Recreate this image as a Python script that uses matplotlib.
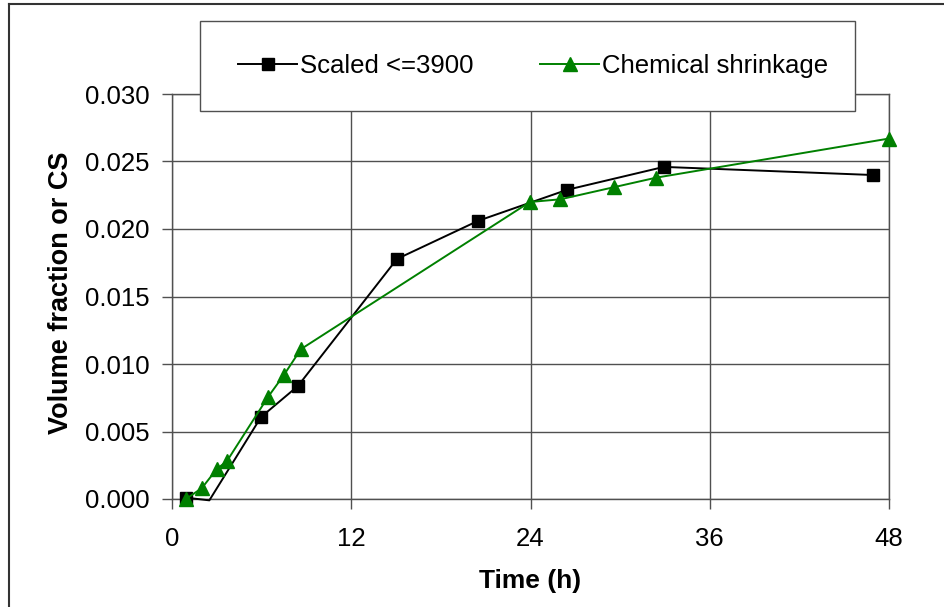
import numpy as np
import matplotlib
matplotlib.use("Agg")
import matplotlib.pyplot as plt
from matplotlib.patches import Rectangle
from matplotlib.lines import Line2D

plt.rcParams['font.family'] = ['Liberation Sans', 'DejaVu Sans']

# data
t_scaled = [0.94, 2.5, 5.96, 8.43, 15.06, 20.48, 26.44, 32.93, 46.9]
v_scaled = [0.0001, -0.0001, 0.00607, 0.00837, 0.01778, 0.0206, 0.0229, 0.0246, 0.0240]
t_cs = [0.94, 2.0, 3.0, 3.68, 6.43, 7.5, 8.63, 23.96, 26.0, 29.6, 32.4, 48.0]
v_cs = [0.0, 0.00081, 0.00222, 0.00281, 0.00756, 0.0092, 0.0111, 0.0220, 0.0222, 0.0231, 0.0238, 0.0267]

x_ticks = [0, 12, 24, 36, 48]
y_ticks = [0.000, 0.005, 0.010, 0.015, 0.020, 0.025, 0.030]

W, H = 944, 607
fig = plt.figure(figsize=(W/100, H/100), dpi=100)
ax = fig.add_axes([172/W, 1-499/H, (889-172)/W, (499-94)/H])

ax.plot(t_scaled, v_scaled, color='black', lw=1.4, marker='s', ms=8.5,
        markevery=[0, 2, 3, 4, 5, 6, 7, 8], zorder=3, clip_on=False)
ax.plot(t_cs, v_cs, color='#008000', lw=1.4, marker='^', ms=9.5,
        zorder=4, clip_on=False)

ax.set_xlim(0, 48)
ax.set_ylim(0, 0.030)
ax.set_xticks(x_ticks)
ax.set_yticks(y_ticks)
ax.set_yticklabels(['%.3f' % y for y in y_ticks])
ax.grid(True, color='#505050', lw=1.0)
ax.set_axisbelow(True)
for s in ax.spines.values():
    s.set_color('#505050')
    s.set_linewidth(1.0)
ax.tick_params(direction='out', length=7, width=1, color='#505050', labelsize=18.5)
ax.tick_params(axis='x', pad=13)
ax.tick_params(axis='y', pad=9)

# axis titles
fig.text(530/W, 1-581/H, 'Time (h)', fontsize=19, fontweight='bold',
         ha='center', va='center')
fig.text(61/W, 1-293/H, 'Volume fraction or CS', fontsize=19.5, fontweight='bold',
         ha='center', va='center', rotation=90)

# legend box
fig.patches.append(Rectangle((200/W, 1-111/H), 655/W, 90/H,
                             transform=fig.transFigure, facecolor='white',
                             edgecolor='#505050', lw=1.0, zorder=5))
handles = [Line2D([], [], color='black', lw=1.4, marker='s', ms=8.5),
           Line2D([], [], color='#008000', lw=1.4, marker='^', ms=9.5)]
leg = fig.legend(handles, ['Scaled <=3900', 'Chemical shrinkage'], ncol=2,
                 loc='center', bbox_to_anchor=(533/W, 1-66/H),
                 frameon=False, fontsize=18.5, handlelength=2.3,
                 handletextpad=0.1, columnspacing=2.6)
leg.set_zorder(6)

# outer frame (top and left edges only visible)
fig.add_artist(Line2D([9/W, 9/W], [0, 1-4/H], transform=fig.transFigure,
                      color='#333333', lw=1.5))
fig.add_artist(Line2D([9/W, 1], [1-4/H, 1-4/H], transform=fig.transFigure,
                      color='#333333', lw=1.5))

fig.savefig('out.png', dpi=100)
